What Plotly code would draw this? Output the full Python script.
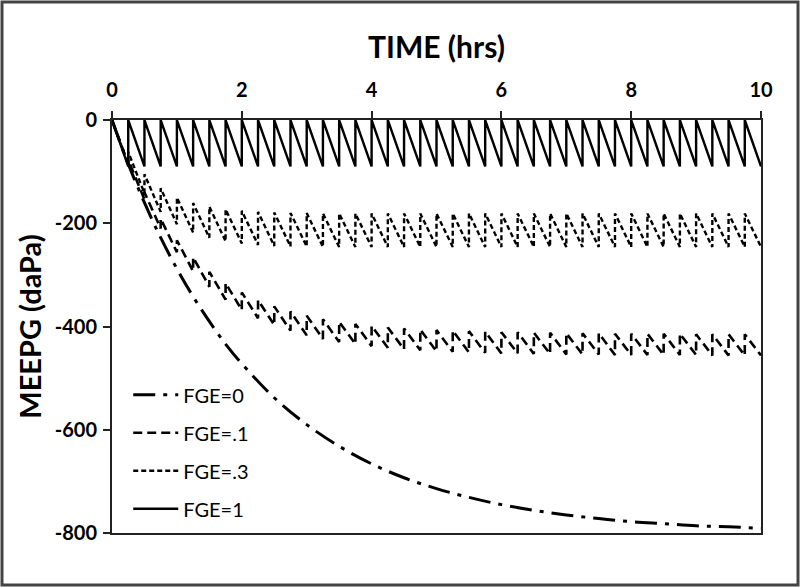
import plotly.graph_objects as go

# ---- data ----
dose_times = [0, 0.25, 0.5, 0.75, 1, 1.25, 1.5, 1.75, 2, 2.25, 2.5, 2.75, 3, 3.25, 3.5, 3.75,
              4, 4.25, 4.5, 4.75, 5, 5.25, 5.5, 5.75, 6, 6.25, 6.5, 6.75, 7, 7.25, 7.5, 7.75,
              8, 8.25, 8.5, 8.75, 9, 9.25, 9.5, 9.75, 10]

# FGE=1: value just after each dose and just before the next dose
fge1_peak = [0] * 40
fge1_trough = [-90] * 40

# FGE=.3
fge03_peak = [0, -62, -105, -132, -150, -161, -168, -173, -176, -178, -179, -180, -180, -181,
              -181, -181, -181, -181, -181, -181, -181, -181, -181, -181, -181, -181, -181,
              -181, -181, -181, -181, -181, -181, -181, -181, -181, -181, -181, -181, -181]
fge03_trough = [-86, -142, -178, -202, -218, -228, -235, -239, -242, -244, -245, -245, -246,
                -246, -246, -246, -246, -246, -246, -246, -246, -246, -246, -246, -246, -246,
                -246, -246, -246, -246, -246, -246, -246, -246, -246, -246, -246, -246, -246, -246]

# FGE=.1
fge01_peak = [0, -77, -140, -191, -233, -266, -294, -316, -334, -349, -361, -371, -379, -386,
              -391, -395, -399, -402, -404, -406, -407, -408, -409, -410, -411, -411, -412,
              -412, -413, -413, -413, -414, -414, -414, -414, -414, -415, -415, -415, -415]
fge01_trough = [-85, -154, -210, -256, -293, -323, -348, -368, -384, -397, -408, -417, -424,
                -430, -434, -438, -441, -444, -446, -448, -449, -450, -451, -452, -452, -453,
                -453, -454, -454, -454, -455, -455, -455, -455, -455, -455, -456, -456, -456, -456]

# FGE=0 (smooth decline)
fge0_time = [0, 0.25, 0.5, 0.75, 1, 1.25, 1.5, 1.75, 2, 2.5, 3, 3.5, 4, 4.5, 5, 5.5, 6, 6.5,
             7, 7.5, 8, 8.5, 9, 9.5, 10]
fge0_value = [0, -85, -160, -228, -288, -342, -390, -434, -472, -538, -590, -632, -666, -693,
              -714, -731, -745, -756, -765, -772, -778, -782, -786, -788, -791]

x_ticks = [0, 2, 4, 6, 8, 10]
y_ticks = [0, -200, -400, -600, -800]


def sawtooth(peaks, troughs):
    xs, ys = [], []
    for k in range(len(peaks)):
        xs += [dose_times[k], dose_times[k + 1]]
        ys += [peaks[k], troughs[k]]
    return xs, ys


FONT = "Lato, sans-serif"

fig = go.Figure()

fig.add_trace(go.Scatter(x=fge0_time, y=fge0_value, mode="lines", name="FGE=0",
                         line=dict(color="black", width=3, dash="22px,8px,4px,8px", shape="spline"),
                         legendgroup="a"))
x1, y1 = sawtooth(fge01_peak, fge01_trough)
fig.add_trace(go.Scatter(x=x1, y=y1, mode="lines", name="FGE=.1",
                         line=dict(color="black", width=2.6, dash="9px,5px"), legendgroup="b"))
x3, y3 = sawtooth(fge03_peak, fge03_trough)
fig.add_trace(go.Scatter(x=x3, y=y3, mode="lines", name="FGE=.3",
                         line=dict(color="black", width=2.4, dash="5px,3px"), legendgroup="c"))
xf, yf = sawtooth(fge1_peak, fge1_trough)
fig.add_trace(go.Scatter(x=xf, y=yf, mode="lines", name="FGE=1",
                         line=dict(color="black", width=2.4), legendgroup="d"))

L, R, T, B = 112, 39, 120, 55
W, H = 800, 588
pw, ph = W - L - R, H - T - B

fig.update_layout(
    width=W, height=H,
    margin=dict(l=L, r=R, t=T, b=B, autoexpand=False),
    paper_bgcolor="white", plot_bgcolor="white",
    showlegend=True,
    legend=dict(x=0.025, y=0.382, xanchor="left", yanchor="top", itemwidth=45,
                font=dict(family=FONT, size=20, color="black"),
                traceorder="grouped", tracegroupgap=9, bgcolor="rgba(0,0,0,0)"),
    xaxis=dict(side="top", range=[0, 10], tickvals=x_ticks, ticktext=[str(v) for v in x_ticks],
               showgrid=False, zeroline=False, showline=True, linecolor="#222", linewidth=2,
               mirror=True, ticks="outside", ticklen=7, tickwidth=2, tickcolor="#222",
               ticklabelstandoff=6,
               tickfont=dict(family=FONT, size=20, color="black", weight="bold"),
               title=dict(text="TIME (hrs)", standoff=10,
                          font=dict(family=FONT, size=30, color="black", weight="bold"))),
    yaxis=dict(range=[-800, 0], tickvals=y_ticks, ticktext=[str(v) for v in y_ticks],
               showgrid=False, zeroline=False, showline=True, linecolor="#222", linewidth=2,
               mirror=True, ticks="outside", ticklen=7, tickwidth=2, tickcolor="#222",
               ticklabelstandoff=2,
               tickfont=dict(family=FONT, size=20, color="black", weight="bold"),
               title=dict(text="MEEPG (daPa)", standoff=5,
                          font=dict(family=FONT, size=29, color="black", weight="bold"))),
    shapes=[dict(type="rect", xref="paper", yref="paper",
                 x0=(2 - L) / pw, x1=(W - 2 - L) / pw,
                 y0=(ph - (H - 3 - T)) / ph, y1=(ph + T - 2) / ph,
                 line=dict(color="#444", width=3), fillcolor="rgba(0,0,0,0)")],
)

fig.write_html("out.html", config={"displayModeBar": False},
               post_script="document.body.style.margin='0';document.body.style.overflow='hidden';")
